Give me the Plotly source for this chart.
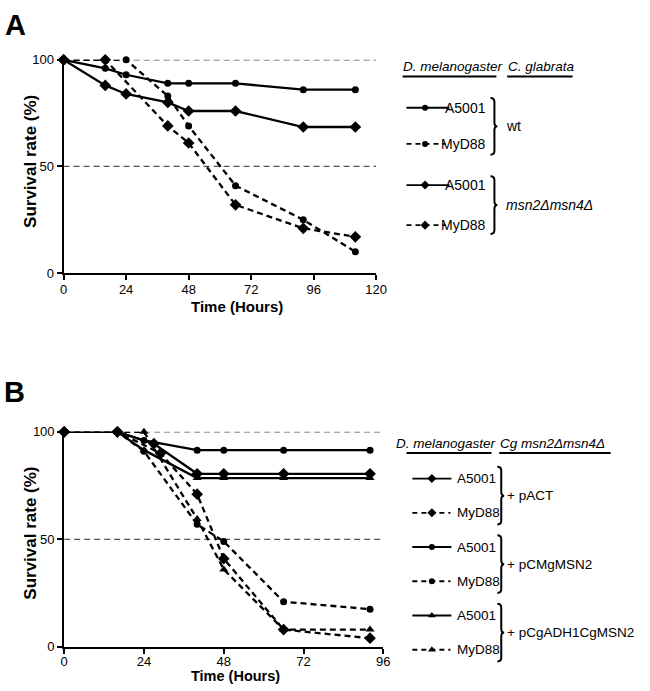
import plotly.graph_objects as go

# ---------------- Panel A data ----------------
a_x_ticks = [0, 24, 48, 72, 96, 120]
a_y_ticks = [0, 50, 100]
a_wt_a5001_t = [0, 16, 24, 40, 48, 66, 92, 112]
a_wt_a5001_v = [100, 96, 93, 89, 89, 89, 86, 86]
a_wt_myd88_t = [0, 16, 24, 40, 48, 66, 92, 112]
a_wt_myd88_v = [100, 100, 100, 83, 69, 41, 25, 10]
a_msn_a5001_t = [0, 16, 24, 40, 48, 66, 92, 112]
a_msn_a5001_v = [100, 88, 84, 80, 76, 76, 68.5, 68.5]
a_msn_myd88_t = [0, 16, 40, 48, 66, 92, 112]
a_msn_myd88_v = [100, 100, 69, 61, 32, 21, 17]

# ---------------- Panel B data ----------------
b_x_ticks = [0, 24, 48, 72, 96]
b_y_ticks = [0, 50, 100]
b_pact_a5001_t = [0, 16, 27, 40, 48, 66, 92]
b_pact_a5001_v = [100, 100, 94.5, 80.5, 80.5, 80.5, 80.5]
b_pact_myd88_t = [0, 16, 29, 40, 48, 66, 92]
b_pact_myd88_v = [100, 100, 90, 71, 41, 8, 4]
b_pcm_a5001_t = [0, 16, 24, 40, 48, 66, 92]
b_pcm_a5001_v = [100, 100, 96, 91.5, 91.5, 91.5, 91.5]
b_pcm_myd88_t = [0, 16, 24, 40, 48, 66, 92]
b_pcm_myd88_v = [100, 100, 91, 57, 49, 21, 17.5]
b_padh_a5001_t = [0, 16, 24, 40, 48, 66, 92]
b_padh_a5001_v = [100, 100, 91.5, 78.5, 78.5, 78.5, 78.5]
b_padh_myd88_t = [0, 16, 24, 40, 48, 66, 92]
b_padh_myd88_v = [100, 100, 100, 59.5, 36, 8, 8]

ref_levels = [50, 100]

W, H = 650, 691
FONT = "Liberation Sans, Arial, sans-serif"
LW = 2.3
DASH = "6px,4px"

def px(x):
    return x / W

def py(y):
    return 1 - y / H

fig = go.Figure()

def add_series(t, v, xa, ya, dashed, symbol, size):
    fig.add_trace(go.Scatter(
        x=t, y=v, xaxis=xa, yaxis=ya, mode="lines+markers",
        line=dict(color="black", width=LW, dash=DASH if dashed else "solid"),
        marker=dict(symbol=symbol, size=size, color="black"),
        cliponaxis=False, showlegend=False, hoverinfo="skip"))

# Panel A
add_series(a_wt_a5001_t, a_wt_a5001_v, "x", "y", False, "circle", 7)
add_series(a_msn_a5001_t, a_msn_a5001_v, "x", "y", False, "diamond", 9)
add_series(a_wt_myd88_t, a_wt_myd88_v, "x", "y", True, "circle", 7)
add_series(a_msn_myd88_t, a_msn_myd88_v, "x", "y", True, "diamond", 9)
# Panel B
add_series(b_pcm_a5001_t, b_pcm_a5001_v, "x2", "y2", False, "circle", 7)
add_series(b_pact_a5001_t, b_pact_a5001_v, "x2", "y2", False, "diamond", 9)
add_series(b_padh_a5001_t, b_padh_a5001_v, "x2", "y2", False, "triangle-up", 8)
add_series(b_pcm_myd88_t, b_pcm_myd88_v, "x2", "y2", True, "circle", 7)
add_series(b_pact_myd88_t, b_pact_myd88_v, "x2", "y2", True, "diamond", 9)
add_series(b_padh_myd88_t, b_padh_myd88_v, "x2", "y2", True, "triangle-up", 8)

shapes = []
for lvl in ref_levels:
    shapes.append(dict(type="line", xref="x", yref="y", x0=0, x1=a_x_ticks[-1],
                       y0=lvl, y1=lvl, layer="below",
                       line=dict(color="#555", width=1.2, dash="6px,4px")))
    shapes.append(dict(type="line", xref="x2", yref="y2", x0=0, x1=b_x_ticks[-1],
                       y0=lvl, y1=lvl, layer="below",
                       line=dict(color="#555", width=1.2, dash="6px,4px")))

# ---------------- Legends (pixel overlay axis x3/y3) ----------------
def legend_item(x0, x1, xm, y, dashed, symbol, size):
    fig.add_trace(go.Scatter(
        x=[x0, x1], y=[y, y], xaxis="x3", yaxis="y3", mode="lines",
        line=dict(color="black", width=1.8, dash="5px,4px" if dashed else "solid"),
        showlegend=False, hoverinfo="skip", cliponaxis=False))
    fig.add_trace(go.Scatter(
        x=[xm], y=[y], xaxis="x3", yaxis="y3", mode="markers",
        marker=dict(symbol=symbol, size=size, color="black"),
        showlegend=False, hoverinfo="skip", cliponaxis=False))

def brace(x, top, bot, w=4, tip=3):
    mid = (top + bot) / 2
    xl = x - w
    p = (f"M {xl},{top} Q {x},{top} {x},{top+4} L {x},{mid-4} "
         f"Q {x},{mid} {x+tip},{mid} Q {x},{mid} {x},{mid+4} "
         f"L {x},{bot-4} Q {x},{bot} {xl},{bot}")
    shapes.append(dict(type="path", xref="x3", yref="y3", path=p,
                       line=dict(color="black", width=2)))

annots = []

def text(x, y, s, size=14, anchor="left", italic=False, bold=False, color="black"):
    if italic:
        s = f"<i>{s}</i>"
    if bold:
        s = f"<b>{s}</b>"
    annots.append(dict(xref="x3", yref="y3", x=x, y=y, text=s, showarrow=False,
                       xanchor=anchor, yanchor="middle",
                       font=dict(family=FONT, size=size, color=color)))

def uline(x0, x1, y):
    shapes.append(dict(type="line", xref="x3", yref="y3", x0=x0, x1=x1, y0=y, y1=y,
                       line=dict(color="black", width=2)))

# Panel A legend
text(406, 61, "D. melanogaster", 13.5, italic=True)
uline(408, 504, 71)
text(514, 61, "C. glabrata", 13.5, italic=True)
uline(515, 582, 71)
legend_item(412, 456, 431, 103, False, "circle", 6)
text(495, 103, "A5001", 14, anchor="right")
legend_item(412, 452, 431, 140, True, "circle", 6)
text(495, 140, "MyD88", 14, anchor="right")
brace(502, 93, 151)
text(512, 122, "wt", 14)
legend_item(412, 456, 431, 182, False, "diamond", 7)
text(495, 182, "A5001", 14, anchor="right")
legend_item(412, 452, 431, 223, True, "diamond", 7)
text(495, 223, "MyD88", 14, anchor="right")
brace(502, 173, 232)
text(512, 202, "msn2Δmsn4Δ", 14, italic=True)

# Panel B legend
text(399, 446, "D. melanogaster", 13.5, italic=True)
uline(412, 499, 456)
text(506, 446, "Cg msn2Δmsn4Δ", 13.5, italic=True)
uline(507, 621, 456)
groups_b = [(482, 517, "diamond", 7, "+ pACT"),
            (552, 587, "circle", 6, "+ pCMgMSN2"),
            (622, 657, "triangle-up", 7, "+ pCgADH1CgMSN2")]
for ya, yb, sym, sz, lab in groups_b:
    legend_item(418, 458, 438, ya, False, sym, sz)
    text(462, ya, "A5001", 13.5)
    legend_item(418, 457, 438, yb, True, sym, sz)
    text(462, yb, "MyD88", 13.5)
    brace(509, ya - 12, yb + 12)
    text(513, (ya + yb) / 2, lab, 13.5)

# Panel letters and axis titles
text(12, 18, "A", 29, anchor="center", bold=True)
text(11, 394, "B", 29, anchor="center", bold=True)
text(239, 306, "Time (Hours)", 15, anchor="center", bold=True)
text(237, 683.5, "Time (Hours)", 14.5, anchor="center", bold=True)
for cy in (158, 538):
    annots.append(dict(xref="x3", yref="y3", x=27, y=cy, text="<b>Survival rate (%)</b>",
                       showarrow=False, textangle=-90, xanchor="center", yanchor="middle",
                       font=dict(family=FONT, size=17, color="black")))

def axis(domain, rng, ticks, anchor, standoff=0):
    return dict(domain=domain, range=rng, tickvals=ticks, ticktext=[str(t) for t in ticks],
                showline=True, linecolor="black", linewidth=2, ticks="outside",
                ticklen=5, tickwidth=2, tickcolor="black", showgrid=False,
                zeroline=False, anchor=anchor, fixedrange=True,
                ticklabelstandoff=standoff,
                tickfont=dict(family=FONT, size=13, color="black"))

fig.update_layout(
    width=W, height=H, margin=dict(l=0, r=0, t=0, b=0),
    paper_bgcolor="white", plot_bgcolor="rgba(0,0,0,0)",
    xaxis=axis([px(61), px(381)], [0, a_x_ticks[-1]], a_x_ticks, "y", -2),
    yaxis=axis([py(272), py(54)], [0, 100], a_y_ticks, "x"),
    xaxis2=axis([px(61.6), px(388.3)], [0, b_x_ticks[-1]], b_x_ticks, "y2", -3),
    yaxis2=axis([py(654), py(434.3)], [0, 100], b_y_ticks, "x2"),
    xaxis3=dict(domain=[0, 1], range=[0, W], visible=False, anchor="y3", fixedrange=True),
    yaxis3=dict(domain=[0, 1], range=[H, 0], visible=False, anchor="x3", fixedrange=True),
    shapes=shapes, annotations=annots, showlegend=False,
)

fig.write_html(
    "out.html",
    config={"displayModeBar": False},
    post_script="document.body.style.margin='0';document.body.style.padding='0';"
                "document.documentElement.style.overflow='hidden';",
)
